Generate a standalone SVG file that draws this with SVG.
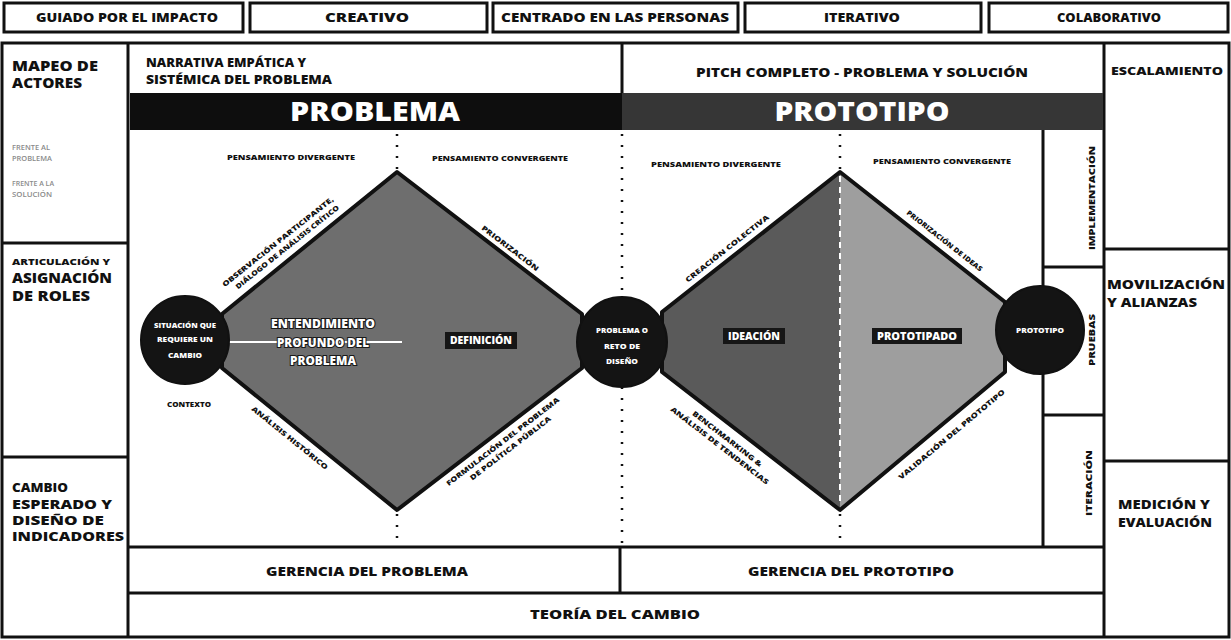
<svg xmlns="http://www.w3.org/2000/svg" width="1231" height="640" viewBox="0 0 1231 640">
<defs>
<style>
.box{fill:#fff;stroke:#111;stroke-width:3}
.ln{stroke:#111;stroke-width:3;fill:none}
.t{font-family:"Open Sans","Noto Sans","Liberation Sans",sans-serif;font-weight:800;fill:#111}
.c{text-anchor:middle}
.w{fill:#fff}
.g{fill:#8a8a8a;font-weight:600}
.dot{stroke:#111;stroke-width:2.5;stroke-dasharray:2 9;fill:none}
.wdash{stroke:#fff;stroke-width:2;stroke-dasharray:6 5;fill:none}
.edge{font-size:7px}
.think{font-size:7px}
.lab{fill:#fff;stroke:#1a1a1a;stroke-width:2.2;paint-order:stroke;font-size:12px}
.circ{fill:#141414;stroke:#111;stroke-width:2}
.ctext{font-size:7.5px;fill:#fff}
.bar{fill:#161616}
</style>
</defs>
<rect width="1231" height="640" fill="#fff"/>

<g id="principios">
  <g id="guiado"><rect class="box" x="4" y="3" width="239" height="29"/><text class="t c" x="127" y="22" font-size="11.5" textLength="182" lengthAdjust="spacingAndGlyphs">GUIADO POR EL IMPACTO</text></g>
  <g id="creativo"><rect class="box" x="250" y="3" width="237" height="29"/><text class="t c" x="367" y="22" font-size="11.5" textLength="84" lengthAdjust="spacingAndGlyphs">CREATIVO</text></g>
  <g id="centrado"><rect class="box" x="493" y="3" width="245" height="29"/><text class="t c" x="615" y="22" font-size="11.5" textLength="228" lengthAdjust="spacingAndGlyphs">CENTRADO EN LAS PERSONAS</text></g>
  <g id="iterativo"><rect class="box" x="745" y="3" width="236" height="29"/><text class="t c" x="862" y="22" font-size="11.5" textLength="76" lengthAdjust="spacingAndGlyphs">ITERATIVO</text></g>
  <g id="colaborativo"><rect class="box" x="989" y="3" width="239" height="29"/><text class="t c" x="1109" y="22" font-size="11.5" textLength="104" lengthAdjust="spacingAndGlyphs">COLABORATIVO</text></g>
</g>

<g id="marco">
  <rect class="ln" x="2" y="43" width="1227" height="594"/>
  <line class="ln" x1="128" y1="43" x2="128" y2="637"/>
  <line class="ln" x1="1104" y1="43" x2="1104" y2="637"/>
  <line class="ln" x1="2" y1="243" x2="128" y2="243"/>
  <line class="ln" x1="2" y1="457" x2="128" y2="457"/>
  <line class="ln" x1="1104" y1="249" x2="1229" y2="249"/>
  <line class="ln" x1="1104" y1="461" x2="1229" y2="461"/>
  <line class="ln" x1="622" y1="43" x2="622" y2="93"/>
  <line class="ln" x1="128" y1="547" x2="1104" y2="547"/>
  <line class="ln" x1="128" y1="593" x2="1104" y2="593"/>
  <line class="ln" x1="620" y1="547" x2="620" y2="593"/>
  <line class="ln" x1="1043" y1="130" x2="1043" y2="547"/>
  <line class="ln" x1="1043" y1="267" x2="1104" y2="267"/>
  <line class="ln" x1="1043" y1="415" x2="1104" y2="415"/>
</g>

<g id="mapeo-actores">
  <text class="t" x="12" y="71" font-size="14" textLength="86" lengthAdjust="spacingAndGlyphs">MAPEO DE</text>
  <text class="t" x="12" y="88" font-size="14" textLength="70" lengthAdjust="spacingAndGlyphs">ACTORES</text>
  <text class="t g" x="12" y="150" font-size="6.5" textLength="38" lengthAdjust="spacingAndGlyphs">FRENTE AL</text>
  <text class="t g" x="12" y="161" font-size="6.5" textLength="40" lengthAdjust="spacingAndGlyphs">PROBLEMA</text>
  <text class="t g" x="12" y="186" font-size="6.5" textLength="42" lengthAdjust="spacingAndGlyphs">FRENTE A LA</text>
  <text class="t g" x="12" y="197" font-size="6.5" textLength="40" lengthAdjust="spacingAndGlyphs">SOLUCIÓN</text>
</g>
<g id="articulacion">
  <text class="t" x="12" y="265" font-size="9" textLength="98" lengthAdjust="spacingAndGlyphs">ARTICULACIÓN Y</text>
  <text class="t" x="12" y="283" font-size="14" textLength="100" lengthAdjust="spacingAndGlyphs">ASIGNACIÓN</text>
  <text class="t" x="12" y="301" font-size="14" textLength="78" lengthAdjust="spacingAndGlyphs">DE ROLES</text>
</g>
<g id="cambio-esperado">
  <text class="t" x="12" y="492" font-size="13" textLength="56" lengthAdjust="spacingAndGlyphs">CAMBIO</text>
  <text class="t" x="12" y="509" font-size="13" textLength="100" lengthAdjust="spacingAndGlyphs">ESPERADO Y</text>
  <text class="t" x="12" y="525" font-size="13" textLength="92" lengthAdjust="spacingAndGlyphs">DISEÑO DE</text>
  <text class="t" x="12" y="541" font-size="13" textLength="112" lengthAdjust="spacingAndGlyphs">INDICADORES</text>
</g>

<g id="narrativa">
  <text class="t" x="146" y="67" font-size="12" textLength="160" lengthAdjust="spacingAndGlyphs">NARRATIVA EMPÁTICA Y</text>
  <text class="t" x="146" y="84" font-size="12" textLength="186" lengthAdjust="spacingAndGlyphs">SISTÉMICA DEL PROBLEMA</text>
</g>
<g id="pitch">
  <text class="t c" x="862" y="77" font-size="12" textLength="332" lengthAdjust="spacingAndGlyphs">PITCH COMPLETO - PROBLEMA Y SOLUCIÓN</text>
</g>
<g id="escalamiento"><text class="t c" x="1167" y="75" font-size="10" textLength="112" lengthAdjust="spacingAndGlyphs">ESCALAMIENTO</text></g>
<g id="movilizacion">
  <text class="t" x="1107" y="289" font-size="13" textLength="118" lengthAdjust="spacingAndGlyphs">MOVILIZACIÓN</text>
  <text class="t" x="1107" y="307" font-size="13" textLength="90" lengthAdjust="spacingAndGlyphs">Y ALIANZAS</text>
</g>
<g id="medicion">
  <text class="t" x="1118" y="509" font-size="13" textLength="92" lengthAdjust="spacingAndGlyphs">MEDICIÓN Y</text>
  <text class="t" x="1118" y="527" font-size="13" textLength="94" lengthAdjust="spacingAndGlyphs">EVALUACIÓN</text>
</g>

<g id="banda-problema">
  <rect x="130" y="93" width="492" height="37" fill="#0e0e0e"/>
  <text class="t c w" x="375" y="121" font-size="26" textLength="170" lengthAdjust="spacingAndGlyphs">PROBLEMA</text>
</g>
<g id="banda-prototipo">
  <rect x="622" y="93" width="481" height="37" fill="#363636"/>
  <text class="t c w" x="862" y="121" font-size="26" textLength="175" lengthAdjust="spacingAndGlyphs">PROTOTIPO</text>
</g>

<g id="fases">
  <g id="implementacion"><text class="t c" font-size="8" transform="translate(1095,198) rotate(-90)" textLength="104" lengthAdjust="spacingAndGlyphs">IMPLEMENTACIÓN</text></g>
  <g id="pruebas"><text class="t c" font-size="8" transform="translate(1095,340) rotate(-90)" textLength="52" lengthAdjust="spacingAndGlyphs">PRUEBAS</text></g>
  <g id="iteracion"><text class="t c" font-size="8" transform="translate(1092,483) rotate(-90)" textLength="66" lengthAdjust="spacingAndGlyphs">ITERACIÓN</text></g>
</g>

<g id="connectors">
  <line class="dot" x1="397" y1="134" x2="397" y2="170"/>
  <line class="dot" x1="397" y1="514" x2="397" y2="545"/>
  <line class="dot" x1="622" y1="134" x2="622" y2="545"/>
  <line class="dot" x1="840" y1="134" x2="840" y2="170"/>
  <line class="dot" x1="840" y1="514" x2="840" y2="545"/>
</g>

<g id="diamante-problema">
  <polygon points="397,172 582,314 582,368 397,510 222,368 222,314" fill="#6e6e6e" stroke="#111" stroke-width="4" stroke-linejoin="round"/>
  <line x1="228" y1="342" x2="402" y2="342" stroke="#fff" stroke-width="2"/>
  <text class="t c lab" x="323" y="328" textLength="104" lengthAdjust="spacingAndGlyphs">ENTENDIMIENTO</text>
  <text class="t c lab" x="323" y="347" textLength="92" lengthAdjust="spacingAndGlyphs">PROFUNDO DEL</text>
  <text class="t c lab" x="323" y="365" textLength="66" lengthAdjust="spacingAndGlyphs">PROBLEMA</text>
  <rect class="bar" x="445" y="332" width="72" height="17"/>
  <text class="t c w" x="481" y="344" font-size="10" textLength="62" lengthAdjust="spacingAndGlyphs">DEFINICIÓN</text>
</g>

<g id="diamante-prototipo">
  <polygon points="840,172 662,312 662,372 840,510" fill="#5a5a5a"/>
  <polygon points="840,172 1005,302 1005,372 840,510" fill="#9e9e9e"/>
  <line class="wdash" x1="840" y1="176" x2="840" y2="506"/>
  <polygon points="840,172 1005,302 1005,372 840,510 662,372 662,312" fill="none" stroke="#111" stroke-width="4" stroke-linejoin="round"/>
  <rect class="bar" x="723" y="328" width="62" height="16"/>
  <text class="t c w" x="754" y="340" font-size="10" textLength="52" lengthAdjust="spacingAndGlyphs">IDEACIÓN</text>
  <rect class="bar" x="872" y="328" width="90" height="16"/>
  <text class="t c w" x="917" y="340" font-size="10" textLength="80" lengthAdjust="spacingAndGlyphs">PROTOTIPADO</text>
</g>

<g id="pensamiento">
  <text class="t c think" x="291" y="160" textLength="128" lengthAdjust="spacingAndGlyphs">PENSAMIENTO DIVERGENTE</text>
  <text class="t c think" x="500" y="161" textLength="136" lengthAdjust="spacingAndGlyphs">PENSAMIENTO CONVERGENTE</text>
  <text class="t c think" x="716" y="167" textLength="130" lengthAdjust="spacingAndGlyphs">PENSAMIENTO DIVERGENTE</text>
  <text class="t c think" x="942" y="164" textLength="138" lengthAdjust="spacingAndGlyphs">PENSAMIENTO CONVERGENTE</text>
</g>

<g id="etiquetas-bordes">
  <g transform="translate(290,257) rotate(-38.5)">
    <text class="t c edge" x="0" y="-17" textLength="140" lengthAdjust="spacingAndGlyphs">OBSERVACIÓN PARTICIPANTE,</text>
    <text class="t c edge" x="4" y="-7" textLength="130" lengthAdjust="spacingAndGlyphs">DIÁLOGO DE ANÁLISIS CRÍTICO</text>
  </g>
  <g transform="translate(505,255) rotate(37.5)"><text class="t c edge" y="-6" textLength="70" lengthAdjust="spacingAndGlyphs">PRIORIZACIÓN</text></g>
  <g transform="translate(297,429) rotate(39)"><text class="t c edge" y="14" textLength="96" lengthAdjust="spacingAndGlyphs">ANÁLISIS HISTÓRICO</text></g>
  <g transform="translate(497,434) rotate(-37.5)">
    <text class="t c edge" y="12" textLength="140" lengthAdjust="spacingAndGlyphs">FORMULACIÓN DEL PROBLEMA</text>
    <text class="t c edge" x="2" y="22" textLength="100" lengthAdjust="spacingAndGlyphs">DE POLÍTICA PÚBLICA</text>
  </g>
  <g transform="translate(733,256) rotate(-38.2)"><text class="t c edge" y="-7" textLength="104" lengthAdjust="spacingAndGlyphs">CREACIÓN COLECTIVA</text></g>
  <g transform="translate(938,249) rotate(38.2)"><text class="t c edge" y="-8" textLength="94" lengthAdjust="spacingAndGlyphs">PRIORIZACIÓN DE IDEAS</text></g>
  <g transform="translate(735,429) rotate(37.8)">
    <text class="t c edge" y="15" textLength="86" lengthAdjust="spacingAndGlyphs">BENCHMARKING &amp;</text>
    <text class="t c edge" x="-2" y="25" textLength="122" lengthAdjust="spacingAndGlyphs">ANÁLISIS DE TENDENCIAS</text>
  </g>
  <g transform="translate(943,424) rotate(-39.9)"><text class="t c edge" y="16" textLength="136" lengthAdjust="spacingAndGlyphs">VALIDACIÓN DEL PROTOTIPO</text></g>
</g>

<g id="situacion">
  <circle class="circ" cx="185" cy="340" r="44"/>
  <text class="t c ctext" x="185" y="328" textLength="62" lengthAdjust="spacingAndGlyphs">SITUACIÓN QUE</text>
  <text class="t c ctext" x="185" y="342" textLength="56" lengthAdjust="spacingAndGlyphs">REQUIERE UN</text>
  <text class="t c ctext" x="185" y="358" textLength="34" lengthAdjust="spacingAndGlyphs">CAMBIO</text>
</g>
<g id="contexto"><text class="t c" x="189" y="407" font-size="7.5" textLength="44" lengthAdjust="spacingAndGlyphs">CONTEXTO</text></g>

<g id="problema-reto">
  <circle class="circ" cx="622" cy="342" r="45"/>
  <text class="t c ctext" x="622" y="333" textLength="52" lengthAdjust="spacingAndGlyphs">PROBLEMA O</text>
  <text class="t c ctext" x="622" y="349" textLength="36" lengthAdjust="spacingAndGlyphs">RETO DE</text>
  <text class="t c ctext" x="622" y="364" textLength="32" lengthAdjust="spacingAndGlyphs">DISEÑO</text>
</g>

<g id="prototipo">
  <circle class="circ" cx="1040" cy="330" r="44"/>
  <text class="t c ctext" x="1040" y="333" textLength="48" lengthAdjust="spacingAndGlyphs">PROTOTIPO</text>
</g>

<g id="gerencia-problema"><text class="t c" x="367" y="576" font-size="12" textLength="202" lengthAdjust="spacingAndGlyphs">GERENCIA DEL PROBLEMA</text></g>
<g id="gerencia-prototipo"><text class="t c" x="851" y="576" font-size="12" textLength="206" lengthAdjust="spacingAndGlyphs">GERENCIA DEL PROTOTIPO</text></g>
<g id="teoria-cambio"><text class="t c" x="615" y="619" font-size="12" textLength="170" lengthAdjust="spacingAndGlyphs">TEORÍA DEL CAMBIO</text></g>
</svg>
